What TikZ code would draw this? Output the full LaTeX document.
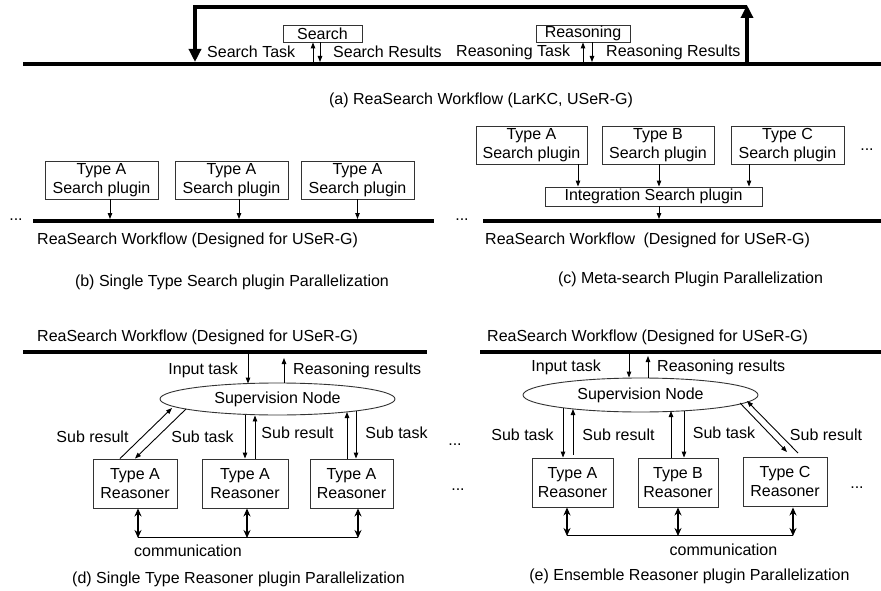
\documentclass[tikz,border=0pt]{standalone}
\usepackage{fontspec}
\setmainfont{Liberation Sans}
\usetikzlibrary{arrows.meta,shapes.geometric,calc}
\begin{document}
\begin{tikzpicture}[x=1pt,y=-1pt,
  every node/.style={font=\fontsize{16}{19}\selectfont, inner sep=0pt},
  wf/.style={line width=3.6pt},
  frame/.style={line width=3.6pt},
  bigtip/.style={-{Triangle[length=13pt,width=12pt]}},
  box/.style={draw=black!80, line width=0.9pt, align=center},
  sup/.style={draw=black!80, line width=0.9pt, ellipse},
  arr/.style={line width=0.9pt, -{Triangle[length=6pt,width=4.5pt]}},
  dbl/.style={line width=1.6pt, {Stealth[length=8pt,width=7pt]}-{Stealth[length=8pt,width=7pt]}},
  thinl/.style={line width=0.9pt},
  dots/.style={anchor=base},
]
\useasboundingbox (0,0) rectangle (881,591);

% ---------------- (a) ----------------
\coordinate (aL) at (23,64);
\coordinate (aR) at (881,64);
\draw[wf] (aL) -- (aR);
\coordinate (fTL) at (195,7);
\coordinate (fTR) at (747,7);
\coordinate (fTRtip) at (747,5);
\coordinate (fBL) at (195,62);
\coordinate (fBR) at (747,64);
\draw[frame, bigtip] (fTR) -- (fTL) -- (fBL);
\draw[frame, bigtip] (fBR) -- (fTRtip);

\node[box, minimum width=79pt, minimum height=17pt] (search) at (322.5,33.5) {Search};
\node[box, minimum width=94pt, minimum height=17pt] (reas) at (583,33.5) {Reasoning};
\draw[arr] ($(search.south |- aL)+(-9.5,0)$) -- ($(search.south)+(-9.5,0)$);
\draw[arr] ($(search.south)+(-2.5,0)$) -- ($(search.south |- aL)+(-2.5,-2)$);
\draw[arr] ($(reas.south |- aL)+(0,0)$) -- ($(reas.south)+(0,0)$);
\draw[arr] ($(reas.south)+(9,0)$) -- ($(reas.south |- aL)+(9,-2)$);

\node[anchor=west] (lst) at (207,52) {Search Task};
\node[anchor=west] (lsr) at (333,52) {Search Results};
\node[anchor=west] (lrt) at (456,52) {Reasoning Task};
\node[anchor=west] (lrr) at (606,52) {Reasoning Results};
\node (capa) at (481,100) {(a) ReaSearch Workflow (LarKC, USeR-G)};

% ---------------- (b) ----------------
\coordinate (bL) at (33,221);
\coordinate (bR) at (434,221);
\draw[wf] (bL) -- (bR);
\node[dots] (bdots) at (16,220) {...};
\node[box, minimum width=113pt, minimum height=38pt] (b1) at (101.5,180) {Type A\\Search plugin};
\node[box, minimum width=113pt, minimum height=38pt] (b2) at (231.5,180) {Type A\\Search plugin};
\node[box, minimum width=113pt, minimum height=38pt] (b3) at (357.5,180) {Type A\\Search plugin};
\draw[arr] ($(b1.south)+(8.5,0)$) -- ($(b1.south |- bL)+(8.5,-2)$);
\draw[arr] ($(b2.south)+(7.5,0)$) -- ($(b2.south |- bL)+(7.5,-2)$);
\draw[arr] ($(b3.south)+(0,0)$) -- ($(b3.south |- bL)+(0,-2)$);
\node[anchor=west] (bwf) at (37,240) {ReaSearch Workflow (Designed for USeR-G)};
\node (capb) at (232,282) {(b) Single Type Search plugin Parallelization};

% ---------------- (c) ----------------
\coordinate (cL) at (483,221);
\coordinate (cR) at (881,221);
\draw[wf] (cL) -- (cR);
\node[dots] (cdots) at (462,220) {...};
\node[dots] (cdots2) at (867,150) {...};
\node[box, minimum width=111pt, minimum height=38pt] (c1) at (531.5,145) {Type A\\Search plugin};
\node[box, minimum width=112pt, minimum height=38pt] (c2) at (658,145) {Type B\\Search plugin};
\node[box, minimum width=113pt, minimum height=38pt] (c3) at (787.5,145) {Type C\\Search plugin};
\node[box, minimum width=217pt, minimum height=19pt] (cint) at (653.5,196.5) {Integration Search plugin};
\draw[arr] ($(c1.south)+(46.5,0)$) -- ($(c1.south |- cint.north)+(46.5,0)$);
\draw[arr] ($(c2.south)+(1,0)$) -- ($(c2.south |- cint.north)+(1,0)$);
\draw[arr] ($(c3.south)+(-38.5,0)$) -- ($(c3.south |- cint.north)+(-38.5,0)$);
\draw[arr] ($(cint.south)+(5.5,0)$) -- ($(cint.south |- cL)+(5.5,-2)$);
\node[anchor=west] (cwf) at (485,240) {ReaSearch Workflow\hspace{4pt} (Designed for USeR-G)};
\node (capc) at (690.5,279) {(c) Meta-search Plugin Parallelization};

% ---------------- (d) ----------------
\node[anchor=west] (dwf) at (37,337) {ReaSearch Workflow (Designed for USeR-G)};
\coordinate (dL) at (23,352);
\coordinate (dR) at (427,352);
\draw[wf] (dL) -- (dR);
\node[sup, minimum width=235pt, minimum height=32pt] (dsup) at (277.5,399) {Supervision Node};
\draw[arr] ($(dsup.north |- dL)+(-29.5,-2)$) -- ($(dsup.north)+(-29.5,1)$);
\draw[arr] ($(dsup.north)+(6.5,0)$) -- ($(dsup.north |- dL)+(6.5,6)$);
\node[anchor=east] (dit) at (238,370) {Input task};
\node[anchor=west] (drr) at (293,370) {Reasoning results};

\node[box, minimum width=84pt, minimum height=49pt] (d1) at (135,483.5) {Type A\\Reasoner};
\node[box, minimum width=86pt, minimum height=49pt] (d2) at (245,483.5) {Type A\\Reasoner};
\node[box, minimum width=83pt, minimum height=49pt] (d3) at (351.5,483.5) {Type A\\Reasoner};

\coordinate (dsr) at (172,408);
\coordinate (dst) at (186,409);
\draw[arr] ($(d1.north)+(-15,0)$) -- (dsr);
\draw[arr] (dst) -- ($(d1.north)+(0,0)$);
\draw[arr] ($(dsup.south)+(-32.5,0)$) -- ($(d2.north)+(0,0)$);
\draw[arr] ($(d2.north)+(10,0)$) -- ($(dsup.south)+(-22.5,0)$);
\coordinate (d3a) at (347,412);
\coordinate (d3b) at (356,411);
\draw[arr] ($(d3.north)+(-4.5,0)$) -- (d3a);
\draw[arr] (d3b) -- ($(d3.north)+(4.5,0)$);

\node (dl1) at (92.5,437) {Sub result};
\node (dl2) at (202.5,437) {Sub task};
\node (dl3) at (297.5,433) {Sub result};
\node (dl4) at (396.5,433) {Sub task};
\node[dots] (ddots1) at (455,445) {...};
\node[dots] (ddots2) at (458,490) {...};

\coordinate (dc1) at (138,537);
\coordinate (dc3) at (358,537);
\draw[thinl] (dc1) -- (dc3);
\draw[dbl] ($(d1.south)+(3,0)$) -- ($(d1.south |- dc1)+(3,1)$);
\draw[dbl] ($(d2.south)+(2,0)$) -- ($(d2.south |- dc1)+(2,1)$);
\draw[dbl] ($(d3.south)+(6.5,0)$) -- ($(d3.south |- dc1)+(6.5,1)$);
\node (dcom) at (188,551) {communication};
\node (capd) at (238.5,579) {(d) Single Type Reasoner plugin Parallelization};

% ---------------- (e) ----------------
\node[anchor=west] (ewf) at (487,337) {ReaSearch Workflow (Designed for USeR-G)};
\coordinate (eL) at (480,352);
\coordinate (eR) at (881,352);
\draw[wf] (eL) -- (eR);
\node[sup, minimum width=235pt, minimum height=34pt] (esup) at (640.5,395) {Supervision Node};
\draw[arr] ($(esup.north |- eL)+(-11.5,-2)$) -- ($(esup.north)+(-11.5,0)$);
\draw[arr] ($(esup.north)+(7.5,0)$) -- ($(esup.north |- eL)+(7.5,4)$);
\node[anchor=east] (eit) at (601,367) {Input task};
\node[anchor=west] (err) at (657,367) {Reasoning results};

\node[box, minimum width=81pt, minimum height=49pt] (e1) at (572.5,482.5) {Type A\\Reasoner};
\node[box, minimum width=80pt, minimum height=49pt] (e2) at (678,482.5) {Type B\\Reasoner};
\node[box, minimum width=84pt, minimum height=49pt] (e3) at (785,481.5) {Type C\\Reasoner};

\coordinate (e1a) at (563,408);
\coordinate (e1b) at (573,409);
\draw[arr] (e1a) -- ($(e1.north)+(-9.5,0)$);
\draw[arr] ($(e1.north)+(0.5,-3)$) -- (e1b);
\coordinate (e2a) at (671,411);
\coordinate (e2b) at (684,411);
\draw[arr] ($(e2.north)+(-7,0)$) -- (e2a);
\draw[arr] (e2b) -- ($(e2.north)+(6,0)$);
\coordinate (e3a) at (740,403);
\coordinate (e3b) at (787,452);
\coordinate (e3c) at (798,453);
\coordinate (e3d) at (747,401);
\draw[arr] (e3a) -- (e3b);
\draw[arr] (e3c) -- (e3d);

\node (el1) at (522.5,435) {Sub task};
\node (el2) at (618.5,435) {Sub result};
\node (el3) at (724,433) {Sub task};
\node (el4) at (826,435) {Sub result};
\node[dots] (edots) at (857,488) {...};

\coordinate (ec1) at (567,535);
\coordinate (ec3) at (793,535);
\draw[thinl] (ec1) -- (ec3);
\draw[dbl] ($(e1.south)+(-5.5,0)$) -- ($(e1.south |- ec1)+(-5.5,1)$);
\draw[dbl] ($(e2.south)+(0,0)$) -- ($(e2.south |- ec1)+(0,1)$);
\draw[dbl] ($(e3.south)+(8,1)$) -- ($(e3.south |- ec1)+(8,1)$);
\node (ecom) at (723.5,550) {communication};
\node (cape) at (689.5,576) {(e) Ensemble Reasoner plugin Parallelization};
\end{tikzpicture}
\end{document}
